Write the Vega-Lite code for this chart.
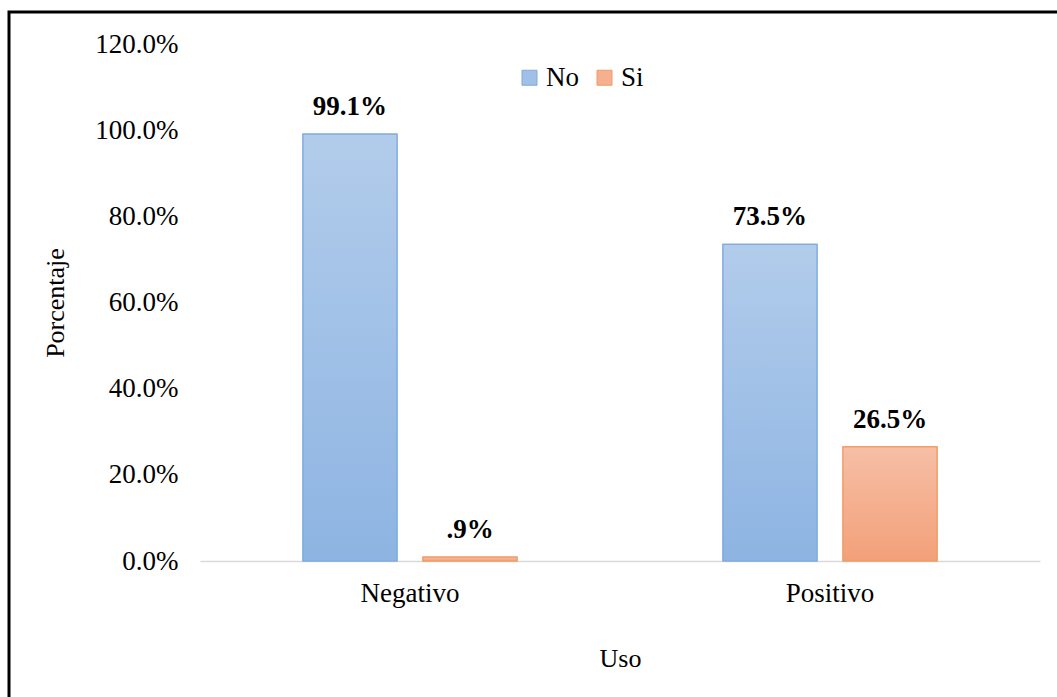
{
  "$schema": "https://vega.github.io/schema/vega-lite/v6.json",
  "width": 1048,
  "height": 685,
  "autosize": {"type": "none"},
  "padding": {"left": 9, "top": 12, "right": 0, "bottom": 0},
  "background": "white",
  "config": {
    "view": {"stroke": "#000000", "strokeWidth": 3, "strokeDash": [1048, 1733, 685]},
    "axis": {"grid": false, "ticks": false, "labelFont": "Liberation Serif, Times New Roman, serif", "titleFont": "Liberation Serif, Times New Roman, serif", "labelColor": "#000000", "titleColor": "#000000", "labelFontSize": 27, "titleFontSize": 26, "titleFontWeight": "normal"},
    "legend": {"labelFont": "Liberation Serif, Times New Roman, serif", "labelFontSize": 27, "labelColor": "#000000"}
  },
  "data": {
    "values": [
      {"Uso": "Negativo", "Serie": "No", "Porcentaje": 0.991, "label": "99.1%"},
      {"Uso": "Negativo", "Serie": "Si", "Porcentaje": 0.009, "label": ".9%"},
      {"Uso": "Positivo", "Serie": "No", "Porcentaje": 0.735, "label": "73.5%"},
      {"Uso": "Positivo", "Serie": "Si", "Porcentaje": 0.265, "label": "26.5%"}
    ]
  },
  "encoding": {
    "x": {
      "field": "Uso", "type": "nominal",
      "scale": {"range": [191, 1031], "paddingInner": 0, "paddingOuter": 0},
      "axis": {"orient": "bottom", "offset": -136, "domainColor": "#d9d9d9", "domainWidth": 1.5, "labelAngle": 0, "labelPadding": 19, "title": "Uso", "titlePadding": 39}
    },
    "xOffset": {
      "field": "Serie", "type": "nominal",
      "scale": {"domain": ["No", "Si"], "paddingInner": 0.2167, "paddingOuter": 0.858}
    },
    "y": {
      "field": "Porcentaje", "type": "quantitative",
      "scale": {"domain": [0, 1.2], "range": [549, 32], "nice": false},
      "axis": {"offset": -191, "domain": false, "values": [0, 0.2, 0.4, 0.6, 0.8, 1.0, 1.2], "format": ".1%", "labelPadding": 22, "title": "Porcentaje", "titlePadding": 26}
    }
  },
  "layer": [
    {
      "mark": {"type": "bar", "strokeWidth": 1.2},
      "encoding": {
        "color": {
          "field": "Serie", "type": "nominal",
          "scale": {"domain": ["No", "Si"], "range": ["#a0c0e7", "#f5b090"]},
          "legend": {"title": null, "orient": "none", "legendX": 507, "legendY": 52, "direction": "horizontal", "symbolType": "square", "symbolSize": 225, "symbolStrokeWidth": 1, "labelOffset": 3, "columnPadding": 12, "padding": 0}
        },
        "stroke": {
          "field": "Serie", "type": "nominal",
          "scale": {"domain": ["No", "Si"], "range": ["#7eaadf", "#f29a63"]},
          "legend": null
        }
      }
    },
    {
      "transform": [{"filter": "datum.Serie === 'No'"}],
      "mark": {"type": "bar", "strokeWidth": 1.2, "stroke": "#7eaadf",
        "fill": {"gradient": "linear", "x1": 0, "y1": 0, "x2": 0, "y2": 1, "stops": [{"offset": 0, "color": "#b2cceb"}, {"offset": 1, "color": "#8db4e2"}]}}
    },
    {
      "transform": [{"filter": "datum.Serie === 'Si'"}],
      "mark": {"type": "bar", "strokeWidth": 1.2, "stroke": "#f29a63",
        "fill": {"gradient": "linear", "x1": 0, "y1": 0, "x2": 0, "y2": 1, "stops": [{"offset": 0, "color": "#f6bfa6"}, {"offset": 1, "color": "#f3a079"}]}}
    },
    {
      "mark": {"type": "text", "baseline": "alphabetic", "dy": -19, "font": "Liberation Serif, Times New Roman, serif", "fontSize": 27, "fontWeight": "bold", "color": "#000000"},
      "encoding": {"text": {"field": "label", "type": "nominal"}}
    }
  ]
}
